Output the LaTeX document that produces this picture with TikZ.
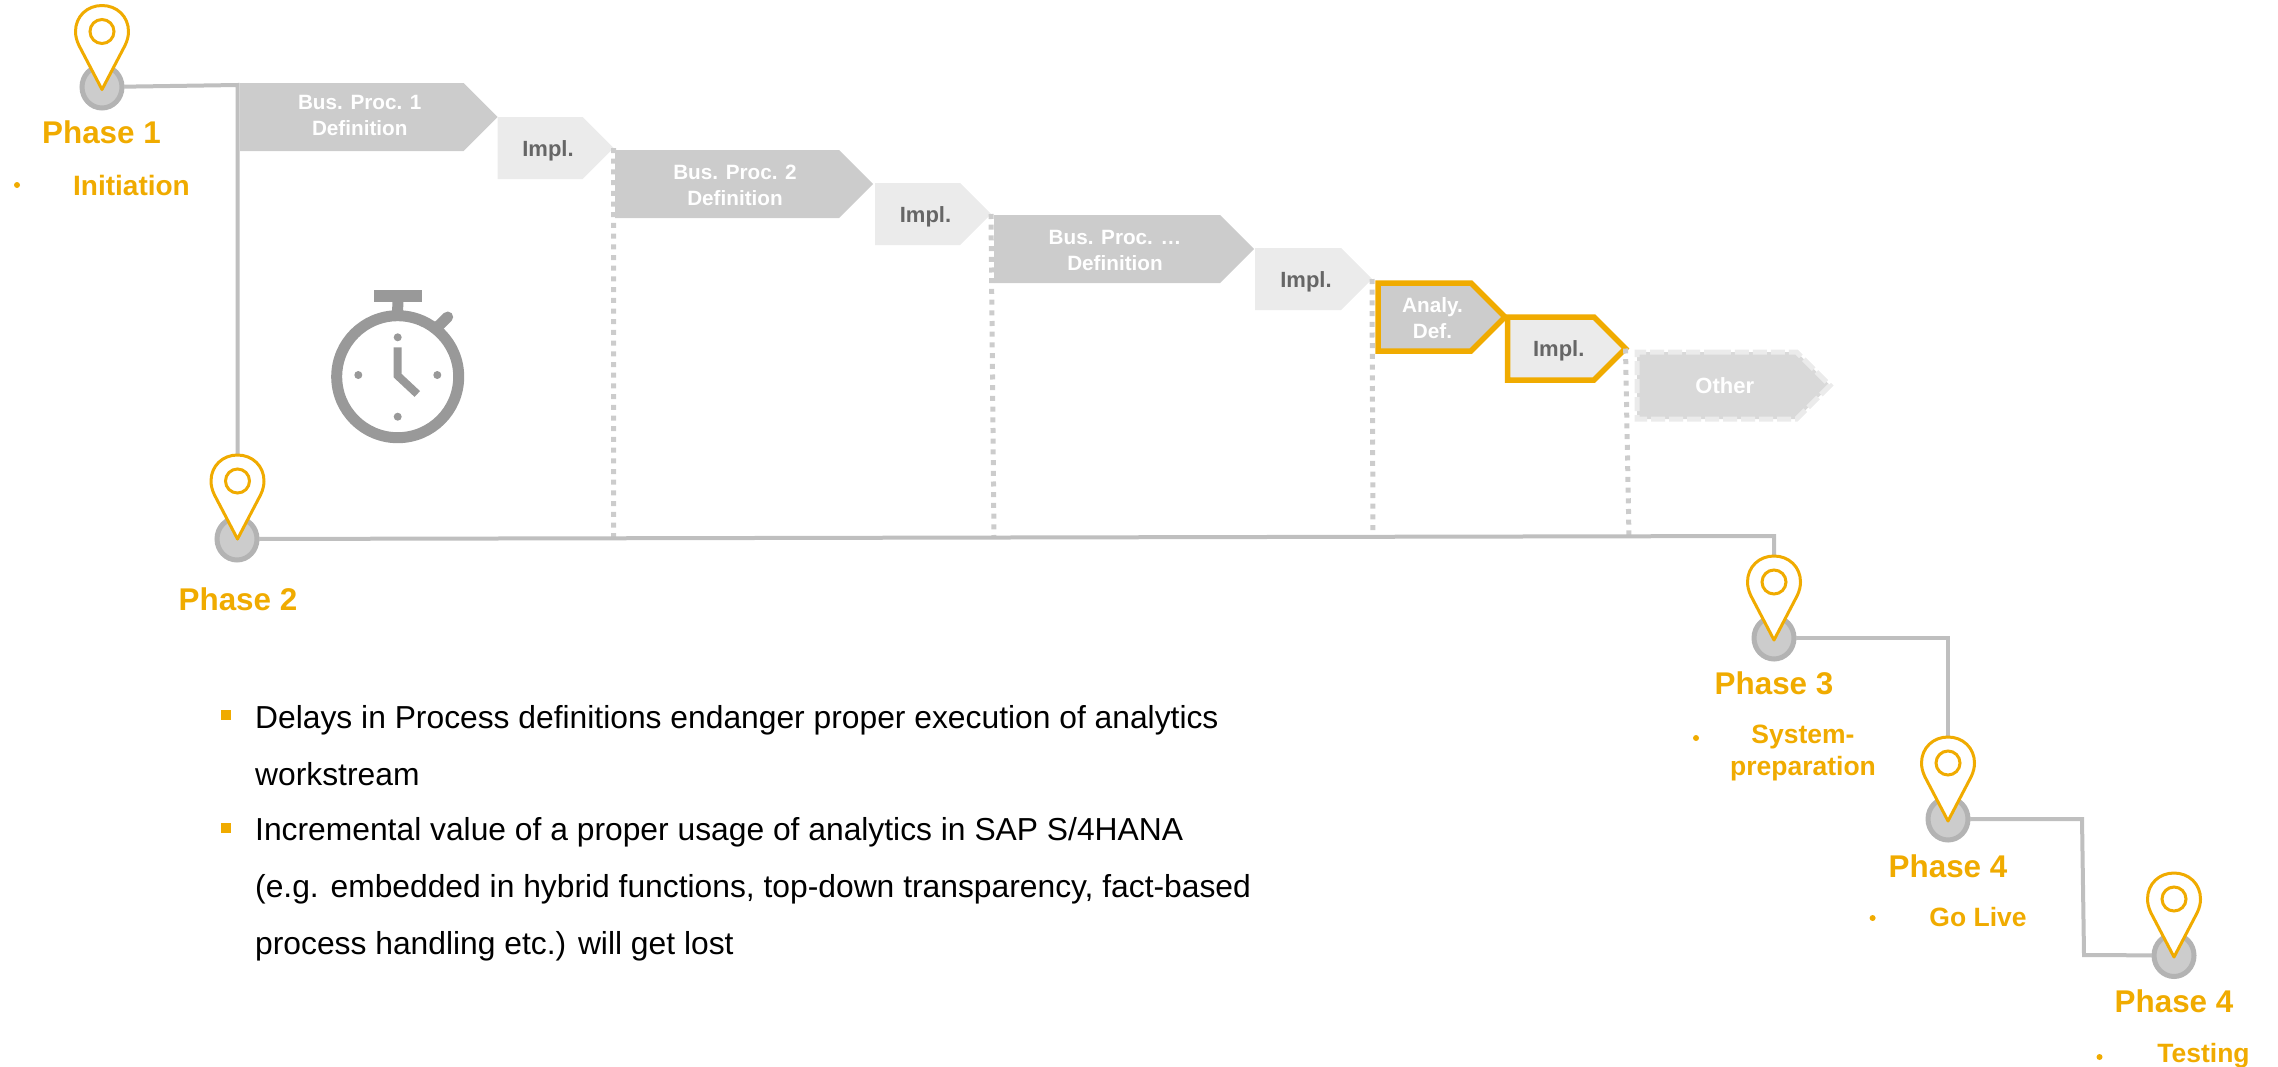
\documentclass[tikz,border=0pt]{standalone}
\usepackage{fontspec}
\setmainfont{Liberation Sans}
\usetikzlibrary{calc,shapes.geometric,shapes.symbols}
\definecolor{sapgold}{HTML}{F0AB00}
\definecolor{linegray}{HTML}{BFBFBF}
\definecolor{ringgray}{HTML}{B3B3B3}
\definecolor{discgray}{HTML}{CCCCCC}
\definecolor{palegray}{HTML}{EBEBEB}
\definecolor{othergray}{HTML}{D9D9D9}
\definecolor{clockgray}{HTML}{999999}
\definecolor{labelgray}{HTML}{666666}
\newcommand{\stp}[2][20]{\hspace*{16pt}\begin{tabular}{@{}c@{}}\\[-#1pt]#2\end{tabular}}
\tikzset{
  link/.style={draw=linegray,line width=4pt},
  gate/.style={draw=discgray,line width=5pt,dash pattern=on 5pt off 5.7pt},
  disc/.style={ellipse,fill=discgray,draw=ringgray,line width=5pt,inner sep=0pt,outer sep=2pt,minimum width=40pt,minimum height=42pt},
  stepdef/.style={signal,signal to=east,signal from=nowhere,anchor=west,fill=discgray,inner sep=0pt,outer sep=0pt,text=white,font=\bfseries\fontsize{20.7}{26}\selectfont},
  stepimpl/.style={stepdef,fill=palegray,text=labelgray,font=\bfseries\fontsize{22}{26}\selectfont},
  hot/.style={draw=sapgold,line width=5.5pt,line join=miter},
  phase/.style={text=sapgold,inner sep=0pt,font=\bfseries\fontsize{31.4}{36}\selectfont},
  sub/.style={text=sapgold,inner sep=0pt,align=center,font=\bfseries\fontsize{26.5}{32}\selectfont},
  tick/.style={circle,fill=sapgold,inner sep=0pt,minimum size=6pt},
  sqbullet/.style={rectangle,fill=sapgold,inner sep=0pt,minimum size=10pt},
  body/.style={inner sep=0pt,anchor=north west,align=left,font=\fontsize{31.8}{57}\selectfont},
  clockpart/.style={clockgray,line width=11pt},
  clockdot/.style={circle,fill=clockgray,inner sep=0pt,minimum size=8pt},
  pics/locpin/.style={code={
    \draw[sapgold,line width=3pt,fill=white,line join=round]
      (0,0) -- (-23,-44) .. controls (-25.5,-49) and (-26.5,-54) .. (-26.5,-58)
      .. controls (-26.5,-73) and (-15,-84) .. (0,-84)
      .. controls (15,-84) and (26.5,-73) .. (26.5,-58)
      .. controls (26.5,-54) and (25.5,-49) .. (23,-44) -- cycle;
    \draw[sapgold,line width=3pt] (0,-58) circle [radius=12];
  }},
}
\begin{document}
\begin{tikzpicture}[x=1pt,y=-1pt]
\useasboundingbox (0,0) rectangle (2278,1066);

% stations
\node[disc] (d1) at (102,87) {};
\node[disc] (d2) at (237,539) {};
\node[disc] (d3) at (1774,638) {};
\node[disc] (d4) at (1948,819) {};
\node[disc] (d5) at (2174,955.5) {};

% process steps
\node[stepdef,minimum width=257.5pt,minimum height=68pt] (b1) at (240,117) {\stp[25]{Bus. Proc. 1\\Definition}};
\node[stepimpl,minimum width=116pt,minimum height=62pt] (i1) at (497.5,148) {\stp{Impl.}};
\node[stepdef,minimum width=258pt,minimum height=68pt] (b2) at (615,184) {\stp{Bus. Proc. 2\\Definition}};
\node[stepimpl,minimum width=116pt,minimum height=62pt] (i2) at (875,214) {\stp{Impl.}};
\node[stepdef,minimum width=260pt,minimum height=68pt] (b3) at (994,249) {\stp{Bus. Proc. …\\Definition}};
\node[stepimpl,minimum width=117pt,minimum height=62pt] (i3) at (1255,279) {\stp{Impl.}};

\coordinate (g1) at (613.6,538);
\coordinate (g2) at (994,538);
\coordinate (g3) at (1373,538);
\coordinate (g4) at (1629,538);
\draw[gate] (i1.east) -- (g1);
\draw[gate] (i2.east) -- (g2);
\draw[gate] (i3.east) -- (g3);

\node[stepdef,hot,minimum width=127pt,minimum height=68pt] (b4) at (1378,317) {\stp{Analy.\\Def.}};
\node[stepimpl,hot,minimum width=118pt,minimum height=63pt] (i4) at (1507.5,348.5) {\stp{Impl.}};
\draw[gate] (i4.east) -- (g4);
\node[stepimpl,fill=othergray,text=white,draw=palegray,line width=5pt,dash pattern=on 14pt off 4pt,minimum width=193pt,minimum height=67pt] (o1) at (1637,385.5) {\stp{Other}};

% corners of the route
\coordinate (c1) at (237.5,85);
\coordinate (p2) at (237.5,456);
\coordinate (c2) at (1774,536);
\coordinate (p3) at (1774,555);
\coordinate (c3) at (1948,638);
\coordinate (p4) at (1948,737);
\coordinate (c4) at (2082,819);
\coordinate (c5) at (2084,955);

\draw[link] (d1) -- (c1) -- (p2);
\draw[link] (d2) -- (c2) -- (p3);
\draw[link] (d3) -- (c3) -- (p4);
\draw[link] (d4) -- (c4) -- (c5) -- (d5);

% pins on the stations
\pic at (102,89.5) {locpin};
\pic at (237.5,539) {locpin};
\pic at (1774,640) {locpin};
\pic at (1948,821) {locpin};
\pic at (2174,957) {locpin};

% stopwatch
\node[circle,draw=clockgray,line width=11pt,inner sep=0pt,minimum size=122pt,outer sep=0pt] (w0) at (397.7,376.7) {};
\node[rectangle,fill=clockgray,inner sep=0pt,minimum width=47.7pt,minimum height=12pt] (w1) at (397.8,296) {};
\draw[clockpart] (w1) -- (w0.north);
\coordinate (w2) at (447.7,317);
\coordinate (w3) at (439,325.5);
\draw[clockpart,line cap=round] (w2) -- (w3);
\node[clockdot] (t1) at (397.7,337.3) {};
\node[clockdot] (t2) at (358.3,375) {};
\node[clockdot] (t3) at (437.3,375) {};
\node[clockdot] (t4) at (397.7,416.7) {};
\coordinate (h1) at (397.7,347.3);
\coordinate (h2) at (397.7,375.7);
\coordinate (h3) at (417.3,394);
\draw[clockgray,line width=8pt] (h1) -- (h2) -- (h3);

% phase labels
\node[phase] (l1) at (101.5,132) {Phase 1};
\node[phase] (l2) at (238,599) {Phase 2};
\node[phase] (l3) at (1774,683) {Phase 3};
\node[phase] (l4) at (1948,866) {Phase 4};
\node[phase] (l5) at (2174,1001) {Phase 4};

\node[sub,font=\bfseries\fontsize{28}{31}\selectfont] (s1) at (131.5,185) {Initiation};
\node[tick] (k1) at (17,185) {};
\node[sub] (s3) at (1803,753) {System-\\preparation};
\node[tick] (k3) at (1696,738) {};
\node[sub] (s4) at (1978,917) {Go Live};
\node[tick] (k4) at (1872.6,918) {};
\node[sub] (s5) at (2203.5,1056) {Testing};
\node[tick] (k5) at (2099.5,1057) {};

% notes
\node[sqbullet] (q1) at (226,715) {};
\node[body] (n1) at (255,705) {Delays in Process definitions endanger proper execution of analytics\\workstream};
\node[sqbullet] (q2) at (226,828) {};
\node[body] (n2) at (255,817) {Incremental value of a proper usage of analytics in SAP S/4HANA\\(e.g. embedded in hybrid functions, top-down transparency, fact-based\\process handling etc.) will get lost};

\end{tikzpicture}
\end{document}
